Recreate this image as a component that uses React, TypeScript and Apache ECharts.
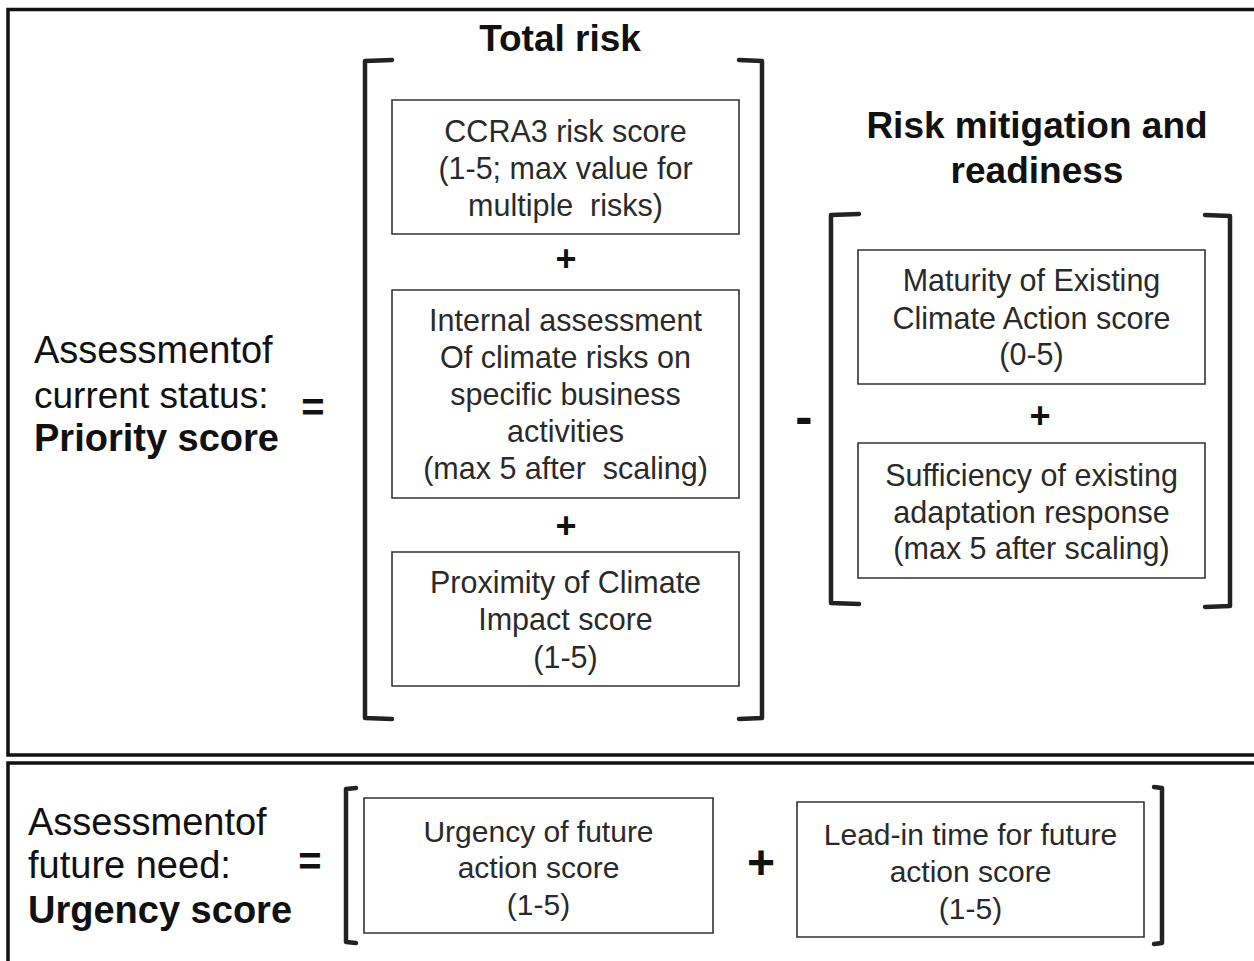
import React, { useEffect, useRef } from "react";
import * as echarts from "echarts";

const titleTotalRisk = ["Total risk"];
const titleMitigation = ["Risk mitigation and", "readiness"];
const priorityLabel = ["Assessmentof", "current status:"];
const priorityBold = "Priority score";
const urgencyLabel = ["Assessmentof", "future need:"];
const urgencyBold = "Urgency score";
const riskBoxes = [
  ["CCRA3 risk score", "(1-5; max value for", "multiple  risks)"],
  ["Internal assessment", "Of climate risks on", "specific business", "activities", "(max 5 after  scaling)"],
  ["Proximity of Climate", "Impact score", "(1-5)"],
];
const mitigationBoxes = [
  ["Maturity of Existing", "Climate Action score", "(0-5)"],
  ["Sufficiency of existing", "adaptation response", "(max 5 after scaling)"],
];
const urgencyBoxes = [
  ["Urgency of future", "action score", "(1-5)"],
  ["Lead-in time for future", "action score", "(1-5)"],
];

const FONT = "'Liberation Sans', Arial, sans-serif";
const INK = "#111";
const BOXTXT = "#2a2a2a";

function txt(x: number, y: number, s: string, size: number, bold = false, align = "center", color = INK) {
  return {
    type: "text",
    x,
    y,
    style: {
      text: s,
      fontFamily: FONT,
      fontSize: size,
      fontWeight: bold ? "bold" : "normal",
      fill: color,
      textAlign: align,
      textVerticalAlign: "middle",
    },
  };
}

function box(x1: number, y1: number, x2: number, y2: number, lines: string[], ys: number[], size: number) {
  const els: any[] = [
    {
      type: "rect",
      shape: { x: x1, y: y1, width: x2 - x1, height: y2 - y1 },
      style: { fill: "#fff", stroke: "#333", lineWidth: 1.6 },
    },
  ];
  const cx = (x1 + x2) / 2;
  lines.forEach((l, i) => els.push(txt(cx, ys[i], l, size, false, "center", BOXTXT)));
  return els;
}

function bracket(x: number, y1: number, y2: number, hook: number, lw = 4.5) {
  return {
    type: "polyline",
    shape: { points: [[x + hook, y1], [x, y1 + 1], [x, y2 - 1], [x + hook, y2]] },
    style: { stroke: "#222", lineWidth: lw, fill: "none", lineJoin: "round", lineCap: "round" },
  };
}

export default function App() {
  const ref = useRef<HTMLDivElement>(null);
  useEffect(() => {
    document.body.style.margin = "0";
    const chart = echarts.init(ref.current!, null, { renderer: "svg" });
    const g: any[] = [];
    // frames
    g.push({
      type: "rect",
      shape: { x: 8, y: 9.5, width: 1300, height: 745.5 },
      style: { fill: "none", stroke: "#111", lineWidth: 3.5 },
    });
    g.push({
      type: "rect",
      shape: { x: 8, y: 763, width: 1300, height: 260 },
      style: { fill: "none", stroke: "#111", lineWidth: 3.5 },
    });

    // Top titles
    g.push(txt(560, 38, titleTotalRisk[0], 37, true));
    g.push(txt(1037, 125, titleMitigation[0], 37, true));
    g.push(txt(1037, 170, titleMitigation[1], 37, true));

    // Left labels
    g.push(txt(34, 350, priorityLabel[0], 38, false, "left"));
    g.push(txt(34, 395, priorityLabel[1], 37, false, "left"));
    g.push(txt(34, 438, priorityBold, 38, true, "left"));
    g.push(txt(313, 407, "=", 40, true));

    // Total risk brackets
    g.push(bracket(365, 60, 719, 27));
    g.push(bracket(762, 60, 719, -23));
    g.push(...box(392, 100, 739, 234, riskBoxes[0], [131, 168, 205], 30.5));
    g.push(txt(566, 258, "+", 36, true));
    g.push(...box(392, 290, 739, 498, riskBoxes[1], [320, 357, 394, 431, 468], 30.5));
    g.push(txt(566, 525, "+", 36, true));
    g.push(...box(392, 552, 739, 686, riskBoxes[2], [582, 619, 657], 30.5));

    // Minus
    g.push(txt(804, 416, "-", 52, true));

    // Mitigation brackets
    g.push(bracket(831, 214, 604, 28));
    g.push(bracket(1230, 215, 607, -25));
    g.push(...box(858, 250, 1205, 384, mitigationBoxes[0], [280, 318, 354], 30.5));
    g.push(txt(1040, 415, "+", 36, true));
    g.push(...box(858, 443, 1205, 578, mitigationBoxes[1], [475, 512, 548], 30.5));

    // Bottom panel
    g.push(txt(28, 822, urgencyLabel[0], 38, false, "left"));
    g.push(txt(28, 865, urgencyLabel[1], 38, false, "left"));
    g.push(txt(28, 910, urgencyBold, 38, true, "left"));
    g.push(txt(310, 861, "=", 40, true));
    g.push(bracket(346, 788, 943, 10));
    g.push(bracket(1162, 787, 944, -8));
    g.push(...box(364, 798, 713, 933, urgencyBoxes[0], [831, 867, 904], 30));
    g.push(txt(761, 862, "+", 48, true));
    g.push(...box(797, 802, 1144, 937, urgencyBoxes[1], [834, 871, 908], 30));

    chart.setOption({
      animation: false,
      backgroundColor: "#fff",
      graphic: { elements: g },
    });
    return () => chart.dispose();
  }, []);
  return <div ref={ref} style={{ width: 1254, height: 961 }} />;
}
